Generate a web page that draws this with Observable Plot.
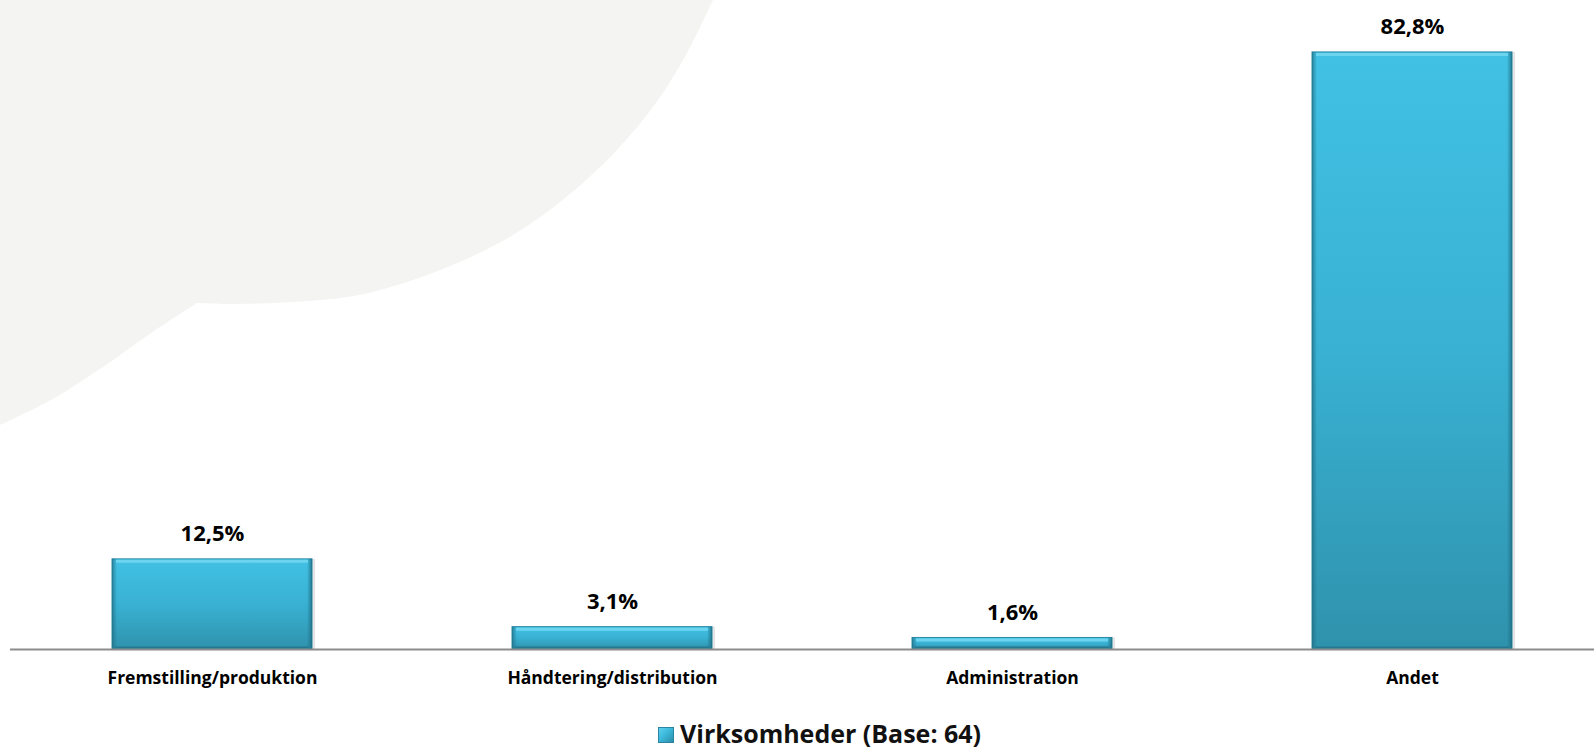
<!DOCTYPE html>
<html><head><meta charset="utf-8">
<script src="https://cdn.jsdelivr.net/npm/d3@7"></script>
<script src="https://cdn.jsdelivr.net/npm/@observablehq/plot@0.6"></script>
<style>
html,body{margin:0;padding:0;background:#fff;}
#wrap{position:relative;width:1594px;height:753px;overflow:hidden;font-family:"Open Sans",Lato,sans-serif;}
#bg{position:absolute;left:0;top:0;}
#chart{position:absolute;left:0;top:0;}
#legend{position:absolute;left:658px;top:718px;display:flex;align-items:center;gap:6px;font-weight:700;font-size:25px;line-height:1.2;color:#111;white-space:nowrap;}
#legend .sw{width:16px;height:16px;box-sizing:border-box;position:relative;top:2px;border:1px solid #2a86a0;background:linear-gradient(135deg,#5fd0ee 0%,#3cb8db 45%,#2c8ea8 100%);}
</style></head><body>
<div id="wrap"><svg id="bg" width="1594" height="753"></svg><div id="chart"></div><div id="legend"></div></div>
<script>
const categories = ["Fremstilling/produktion", "Håndtering/distribution", "Administration", "Andet"];
const values = [12.5, 3.1, 1.6, 82.8];
const seriesName = "Virksomheder (Base: 64)";

const data = categories.map((c, i) => ({cat: c, val: values[i]}));
const fmt = v => v.toFixed(1).replace(".", ",") + "%";

// decorative background shape
const blobTop = [[713,0],[687,53],[656,103],[615,152],[564,199],[513,235],[462,261],[410,281],[359,295],[308,301],[231,304],[197,303]];
const blobTail = [[197,303],[154,331],[103,367],[51,400],[0,425]];
const bg = d3.select("#bg");
const curveTop = d3.line().curve(d3.curveCatmullRom)(blobTop);
const curveTail = d3.line().curve(d3.curveCatmullRom)(blobTail);
bg.append("path")
  .attr("d", "M-5,-5 L713,-5 L713,0 " + curveTop.replace(/^M[^C]*/, "") + " " + curveTail.replace(/^M/, "L") + " L-5,425 Z")
  .attr("fill", "#f4f4f2");

const chart = Plot.plot({
  width: 1594,
  height: 712,
  marginLeft: 10,
  marginRight: 0,
  marginTop: 0,
  marginBottom: 63,
  style: {background: "transparent", fontFamily: "'Open Sans', Lato, sans-serif", overflow: "visible"},
  x: {domain: categories, range: [12, 1612], paddingInner: 0.5, paddingOuter: 0.25, label: null},
  y: {domain: [0, 90], axis: null},
  marks: [
    Plot.barY(data, {x: "cat", y: "val", dx: 3, fill: "#000", fillOpacity: 0.10}),
    Plot.barY(data, {x: "cat", y: "val", fill: "url(#barGrad)", stroke: "#2b8ba5", strokeWidth: 1}),
    Plot.barY(data, {x: "cat", y: "val", fill: "url(#sideGrad)"}),
    Plot.tickY(data, {x: "cat", y: "val", stroke: "#6dd4f0", strokeWidth: 3, dy: 2, insetLeft: 4, insetRight: 4}),
    Plot.tickY(data, {x: "cat", y: 0, stroke: "#24788f", strokeWidth: 2, dy: -2, insetLeft: 3, insetRight: 3}),
    Plot.ruleY([0], {stroke: "#8c8c8c", strokeWidth: 2}),
    Plot.text(data, {x: "cat", y: "val", text: d => fmt(d.val), dy: -18, lineAnchor: "bottom", fontWeight: "bold", fontSize: 22, fill: "#000"}),
    Plot.axisX({tickSize: 0, tickPadding: 22, fontWeight: "bold", fontSize: 17.5, fill: "#000", label: null})
  ]
});

const defs = d3.select(chart).insert("defs", ":first-child");
const g1 = defs.append("linearGradient").attr("id", "barGrad").attr("x1", 0).attr("y1", 0).attr("x2", 0).attr("y2", 1);
g1.append("stop").attr("offset", "0%").attr("stop-color", "#41c1e4");
g1.append("stop").attr("offset", "50%").attr("stop-color", "#39b1d3");
g1.append("stop").attr("offset", "100%").attr("stop-color", "#2f92ac");
const g2 = defs.append("linearGradient").attr("id", "sideGrad").attr("x1", 0).attr("y1", 0).attr("x2", 1).attr("y2", 0);
g2.append("stop").attr("offset", "0%").attr("stop-color", "#1d6a80").attr("stop-opacity", 0.7);
g2.append("stop").attr("offset", "2.5%").attr("stop-color", "#1d6a80").attr("stop-opacity", 0);
g2.append("stop").attr("offset", "97.5%").attr("stop-color", "#1d6a80").attr("stop-opacity", 0);
g2.append("stop").attr("offset", "100%").attr("stop-color", "#1d6a80").attr("stop-opacity", 0.8);

document.getElementById("chart").appendChild(chart);

const leg = d3.select("#legend");
leg.append("div").attr("class", "sw");
leg.append("span").text(seriesName);
</script>
</body></html>
